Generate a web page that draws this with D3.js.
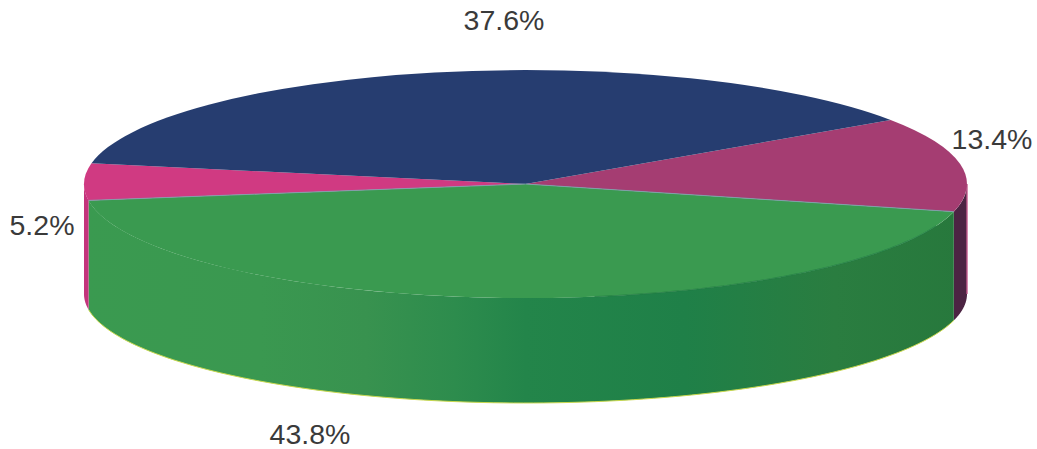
<!DOCTYPE html>
<html>
<head>
<meta charset="utf-8">
<script src="https://cdn.jsdelivr.net/npm/d3@7"></script>
<style>
  html, body { margin: 0; padding: 0; background: #fff; }
  svg { display: block; }
  text { font-family: "Liberation Sans", Arial, sans-serif; font-size: 28.5px; fill: #3a3a3a; text-anchor: middle; }
</style>
</head>
<body>
<svg id="chart" width="1037" height="449"></svg>
<script>
// Slice shares in drawing order, clockwise from the upper-right boundary.
const sliceNames = ["plum", "green", "rose", "navy"];
const sliceValues = [13.4, 43.8, 5.2, 37.6];
const sliceLabels = ["13.4%", "43.8%", "5.2%", "37.6%"];

// Layout and colours for the tilted disc.
const rotation = 55.8 * Math.PI / 180;
const lid = { cx: 525.5, cy: 184, rx: 441.5, ry: 114 };
const base = { cx: 525.5, cy: 294, rx: 441.5, ry: 109 };
const labelSpots = { navy: [504, 30], plum: [992, 149], green: [310, 444], rose: [42, 235] };
const lidFill = { navy: "url(#navyLid)", plum: "#a53d72", green: "url(#greenLid)", rose: "#d03a82" };
const wallFill = { navy: "#14284f", plum: "#4c2443", green: "url(#greenWall)", rose: "#c4347c" };

const svg = d3.select("#chart");
const defs = svg.append("defs");

function horizontalGradient(id, stops) {
  const g = defs.append("linearGradient")
    .attr("id", id).attr("gradientUnits", "userSpaceOnUse")
    .attr("x1", lid.cx - lid.rx).attr("x2", lid.cx + lid.rx)
    .attr("y1", 0).attr("y2", 0);
  g.selectAll("stop").data(stops).join("stop")
    .attr("offset", d => d[0]).attr("stop-color", d => d[1]);
}
horizontalGradient("navyLid", [[0, "#263d70"], [0.3, "#1c3a6e"], [0.6, "#183a6f"], [1, "#213b68"]]);
horizontalGradient("greenLid", [[0, "#3a9a50"], [0.45, "#379c4c"], [0.8, "#3ca646"], [1, "#33a046"]]);
horizontalGradient("greenWall", [
  [0, "#3a9a50"], [0.2, "#3a9850"], [0.32, "#38924f"], [0.42, "#2d8c4d"], [0.5, "#23854a"],
  [0.68, "#1f8048"], [0.85, "#2a7d40"], [1, "#27783c"]
]);

const pie = d3.pie().sort(null)
  .startAngle(rotation).endAngle(rotation + 2 * Math.PI);
const slices = pie(sliceValues).map((s, i) => ({ ...s, name: sliceNames[i], label: sliceLabels[i] }));

// Position on an ellipse, with angle 0 at twelve o'clock running clockwise.
const onRim = (e, a) => [e.cx + e.rx * Math.sin(a), e.cy - e.ry * Math.cos(a)];

// The wall is only visible along the front half of the disc.
function wallPath(s) {
  const from = Math.max(s.startAngle, Math.PI / 2), to = Math.min(s.endAngle, 3 * Math.PI / 2);
  if (from >= to) return "";
  const angles = d3.range(0, 121).map(i => from + (to - from) * i / 120);
  const outline = angles.map(a => onRim(lid, a)).concat(angles.slice().reverse().map(a => onRim(base, a)));
  return d3.line()(outline) + "Z";
}

// Side walls
svg.append("g").selectAll("path").data(slices).join("path")
  .attr("d", wallPath)
  .attr("fill", d => wallFill[d.name]);

// Thin yellow-green highlight along the lower rim of the green wall
const greenSlice = slices.find(s => s.name === "green");
svg.append("path")
  .attr("d", d3.line()(d3.range(0, 121).map(i => {
    const a = greenSlice.startAngle + (greenSlice.endAngle - greenSlice.startAngle) * i / 120;
    return onRim(base, a);
  })))
  .attr("fill", "none").attr("stroke", "#c9d84e").attr("stroke-width", 1);

// Pale edge on the outside of the plum wall
svg.append("path")
  .attr("d", d3.line()([onRim(lid, Math.PI / 2), onRim(base, Math.PI / 2)]))
  .attr("stroke", "#c25a8c").attr("stroke-width", 1.4).attr("fill", "none");

// Top face: a unit arc stretched into the ellipse
const arc = d3.arc().innerRadius(0).outerRadius(1);
svg.append("g")
  .attr("transform", `translate(${lid.cx},${lid.cy}) scale(${lid.rx},${lid.ry})`)
  .selectAll("path").data(slices).join("path")
  .attr("d", arc)
  .attr("fill", d => lidFill[d.name]);

// Slice boundaries and the shaded front edge of the green face
svg.append("path")
  .attr("d", d3.line()([onRim(lid, greenSlice.startAngle), [lid.cx, lid.cy], onRim(lid, greenSlice.endAngle)]))
  .attr("fill", "none").attr("stroke", "#7f9fae").attr("stroke-width", 0.9);
const frontFrom = Math.PI * 0.62, frontTo = Math.PI * 0.95;
svg.append("path")
  .attr("d", d3.line()(d3.range(0, 61).map(i => onRim(lid, frontFrom + (frontTo - frontFrom) * i / 60))))
  .attr("fill", "none").attr("stroke", "#1f7a42").attr("stroke-width", 1.2).attr("opacity", 0.7);

// Percentage labels
svg.append("g").selectAll("text").data(slices).join("text")
  .attr("x", d => labelSpots[d.name][0])
  .attr("y", d => labelSpots[d.name][1])
  .text(d => d.label);
</script>
</body>
</html>
